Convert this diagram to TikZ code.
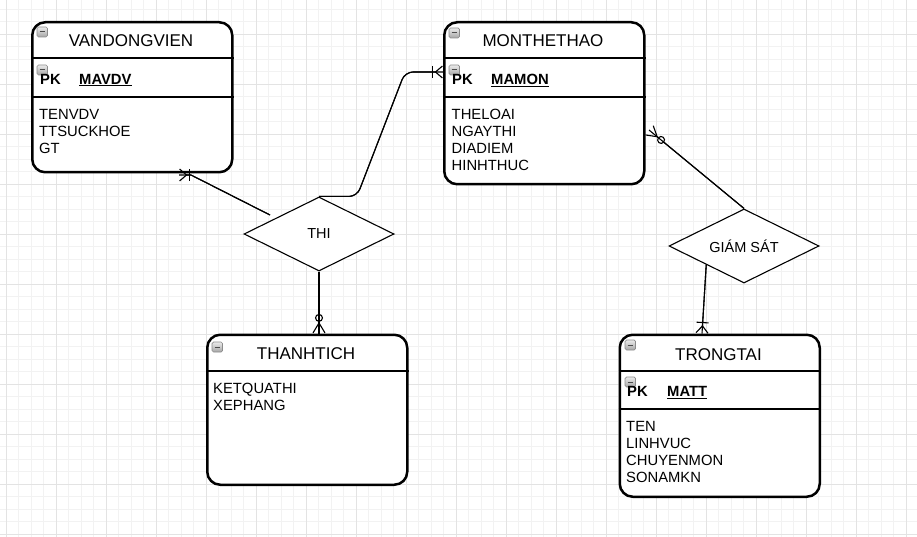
\documentclass[tikz,border=0pt]{standalone}
\usepackage{fontspec}
\setmainfont{Liberation Sans}
\usetikzlibrary{shapes.geometric,arrows.meta,calc}

\begin{document}
\begin{tikzpicture}[x=1pt,y=-1pt,
  gridminor/.style={draw=black!5,line width=0.8pt},
  gridmajor/.style={draw=black!11,line width=0.8pt},
  entity/.style={draw,line width=2.5pt,rounded corners=13pt,fill=white,
    anchor=north west,minimum width=200pt,inner sep=0pt},
  relation/.style={draw,diamond,aspect=2,line width=1.1pt,fill=white,minimum width=150pt,
    minimum height=74pt,inner sep=0pt,font=\fontsize{14.5}{17}\selectfont},
  title/.style={anchor=base,inner sep=0pt,font=\fontsize{17}{20}\selectfont},
  attr/.style={anchor=base west,inner sep=0pt,font=\fontsize{14.8}{17}\selectfont},
  key/.style={attr,font=\fontsize{14.8}{17}\selectfont\bfseries},
  iconbox/.style={draw=black!45,top color=black!8,bottom color=black!35,line width=0.7pt,rounded corners=1.5pt},
  link/.style={line width=1.1pt},
  onemany/.style={link,-{Bar[width=12pt,sep=2pt]Straight Barb[reversed,length=7pt,width=12pt]},
    postaction={draw,-}},
  zeromany/.style={link,-{Circle[open,fill=white,length=8pt,width=8pt,sep=0pt]Straight Barb[reversed,length=10pt,width=12pt]},
    postaction={draw,-}}
]
\useasboundingbox (0,0) rectangle (917,537);
\fill[white] (0,0) rectangle (917,537);
% grid
\foreach \i in {0,...,72} \draw[gridminor] ({6+12.5*\i},0) -- ++(0,537);
\foreach \i in {0,...,42} \draw[gridminor] (0,{9+12.5*\i}) -- ++(917,0);
\foreach \i in {0,...,18} \draw[gridmajor] ({6+50*\i},0) -- ++(0,537);
\foreach \i in {0,...,10} \draw[gridmajor] (0,{34+50*\i}) -- ++(917,0);

% entities
\node[entity,minimum height=150pt] (vdv) at (31,21) {};
\node[entity,minimum height=162pt] (mon) at (443,21) {};
\node[entity,minimum height=150pt] (tt) at (206,333.5) {};
\node[entity,minimum height=162pt] (trt) at (618.5,333.5) {};
\draw[line width=2pt] (vdv.west |- 0,58) -- (vdv.east |- 0,58);
\draw[line width=1.2pt] (vdv.west |- 0,97) -- (vdv.east |- 0,97);
\draw[line width=2pt] (mon.west |- 0,58) -- (mon.east |- 0,58);
\draw[line width=1.2pt] (mon.west |- 0,97) -- (mon.east |- 0,97);
\draw[line width=2pt] (tt.west |- 0,371) -- (tt.east |- 0,371);
\draw[line width=2pt] (trt.west |- 0,371) -- (trt.east |- 0,371);
\draw[line width=1.2pt] (trt.west |- 0,409) -- (trt.east |- 0,409);

% collapse icons
\foreach \ix/\iy in {37/27,37/65,449/28,449/65,212/342,625/340,625/377} {
  \draw[iconbox] (\ix,\iy) rectangle ++(10.5,10);
  \draw[black!70,line width=1pt] (\ix+2.5,\iy+5) -- ++(5.5,0);
}

% texts
\node[title] at (131,47) {VANDONGVIEN};
\node[key] at (40,84.3) {PK};
\node[key] at (79,84.3) {\underline{MAVDV}};
\foreach \t [count=\i] in {TENVDV,TTSUCKHOE,GT}
  \node[attr] at (39,{102.3+17*\i}) {\t};

\node[title] at (543,47) {MONTHETHAO};
\node[key] at (452,84.3) {PK};
\node[key] at (491,84.3) {\underline{MAMON}};
\foreach \t [count=\i] in {THELOAI,NGAYTHI,DIADIEM,HINHTHUC}
  \node[attr] at (451.5,{102.3+17*\i}) {\t};

\node[title] at (306,359.5) {THANHTICH};
\foreach \t [count=\i] in {KETQUATHI,XEPHANG}
  \node[attr] at (213,{376.3+17*\i}) {\t};

\node[title] at (718.5,360) {TRONGTAI};
\node[key] at (627,396.3) {PK};
\node[key] at (667,396.3) {\underline{MATT}};
\foreach \t [count=\i] in {TEN,LINHVUC,CHUYENMON,SONAMKN}
  \node[attr] at (626,{414.3+17*\i}) {\t};

% relations
\node[relation] (thi) at (319,234) {THI};
\node[relation] (gs) at (744,246) {GIÁM SÁT};

\coordinate (thi-vdv) at (270,215);
\coordinate (vdv-in) at (179,175);
\coordinate (mon-in) at (443,72);
\coordinate (mon-out) at (649,130);
\coordinate (trt-in) at (702,333.5);

% connectors
\draw[onemany] (thi-vdv) -- ++(-79,-40) -- (vdv-in);
\draw[onemany,rounded corners=8pt] (thi.north) -- ++(38,0) -- (405,72) -- (mon-in);
\draw[zeromany] (thi.south) -- (thi.south |- tt.north);
\draw[zeromany] (gs.north) -- (mon-out);
\draw[onemany] ($(gs.west)!.5!(gs.south)$) -- (trt-in);
\end{tikzpicture}
\end{document}
